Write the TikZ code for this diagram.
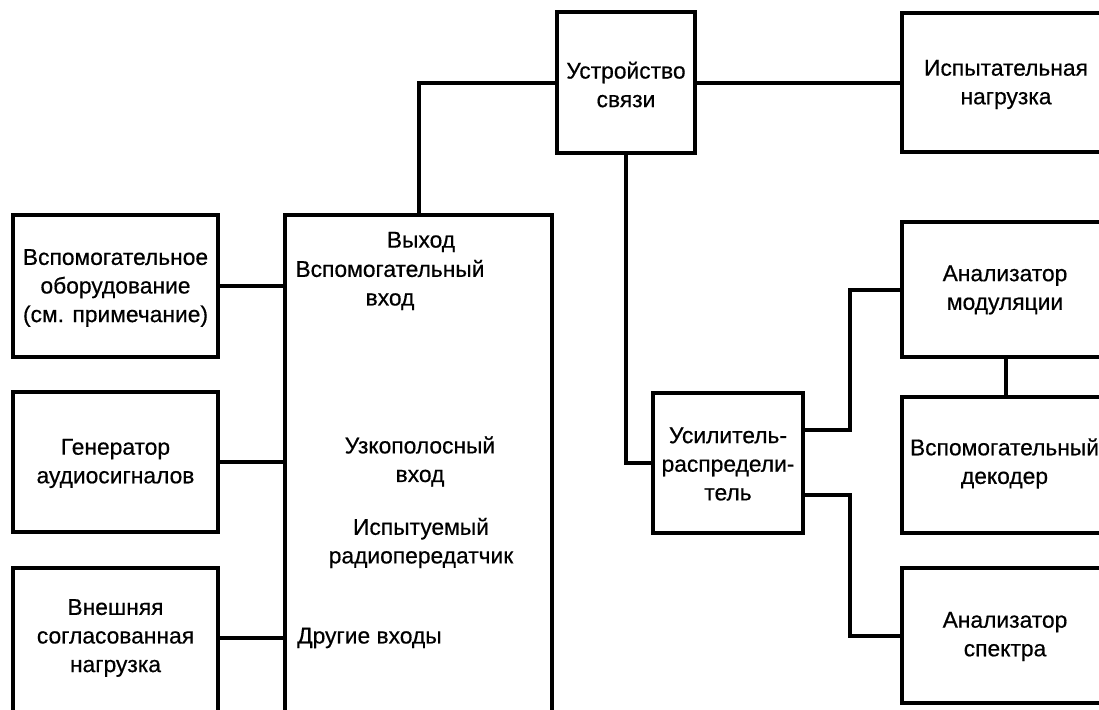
\documentclass[tikz,border=0pt]{standalone}
\usepackage{fontspec}
\setmainfont{Liberation Sans}[FakeBold=0.5]
\begin{document}
\begin{tikzpicture}[x=1pt,y=-1pt,
  box/.style={draw,line width=4pt,inner sep=0pt},
  lbl/.style={inner sep=0pt,align=center,font=\fontsize{22.8}{28.6}\selectfont},
  wire/.style={line width=4pt}]
\useasboundingbox (0,0) rectangle (1099,709);
\clip (0,0) rectangle (1099,709);
% left boxes
\node[box,minimum width=205pt,minimum height=142pt] (aux) at (115.5,286) {};
\node[lbl] (auxt) at (115.5,288) {Вспомогательное\\оборудование\\(см. примечание)};
\node[box,minimum width=205pt,minimum height=140pt] (gen) at (115.5,462) {};
\node[lbl] (gent) at (115.5,463.5) {Генератор\\аудиосигналов};
\node[box,minimum width=205pt,minimum height=192pt] (load) at (115.5,664) {};
\node[lbl] (loadt) at (115.5,638) {Внешняя\\согласованная\\нагрузка};
% transmitter
\node[box,minimum width=267pt,minimum height=545pt] (tx) at (418.5,487.5) {};
\node[lbl] (out) at (421,242) {Выход};
\node[lbl] (auxin) at (390,285) {Вспомогательный\\вход};
\node[lbl] (nbin) at (420,461.5) {Узкополосный\\вход};
\node[lbl] (txname) at (421,543) {Испытуемый\\радиопередатчик};
\node[lbl,anchor=west] (other) at (297,638) {Другие входы};
% top
\node[box,minimum width=138pt,minimum height=141pt] (coup) at (626,82.5) {};
\node[lbl] (coupt) at (626,84.5) {Устройство\\связи};
\node[box,minimum width=208pt,minimum height=139pt] (tload) at (1006,82.5) {};
\node[lbl] (tloadt) at (1006,84.5) {Испытательная\\нагрузка};
% right
\node[box,minimum width=150pt,minimum height=140pt] (amp) at (728,463) {};
\node[lbl] (ampt) at (728,464) {Усилитель-\\распредели-\\тель};
\node[box,minimum width=208pt,minimum height=135pt] (modan) at (1006,289.5) {};
\node[lbl] (modant) at (1005,290) {Анализатор\\модуляции};
\node[box,minimum width=208pt,minimum height=136pt] (dec) at (1006,465) {};
\node[lbl] (dect) at (1004.5,463.5) {Вспомогательный\\декодер};
\node[box,minimum width=208pt,minimum height=135pt] (spec) at (1006,635.5) {};
\node[lbl] (spect) at (1005,636.5) {Анализатор\\спектра};
% connectors
\draw[wire] (aux.east) -- (aux.east -| tx.west);
\draw[wire] (gen.east) -- (gen.east -| tx.west);
\draw[wire] (loadt -| load.east) -- (loadt -| tx.west);
\draw[wire] (coup.west) -| (tx.north);
\draw[wire] (coup.east) -- (tload.west);
\draw[wire] (coup.south) |- (amp.west);
\draw[wire] ([yshift=33pt]amp.east) -- ++(45,0) |- (modan.west);
\draw[wire] ([yshift=-32pt]amp.east) -- ++(45,0) |- (spec.west);
\draw[wire] (modan.south) -- (dec.north);
\end{tikzpicture}
\end{document}
